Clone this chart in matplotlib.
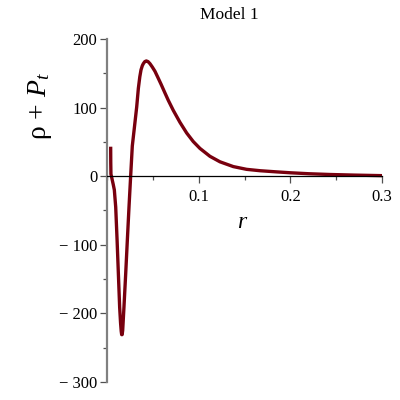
import matplotlib
matplotlib.use('Agg')
import matplotlib.pyplot as plt
from matplotlib import ticker

plt.rcParams['font.family'] = ['Liberation Serif', 'DejaVu Serif']
plt.rcParams['mathtext.fontset'] = 'custom'
plt.rcParams['mathtext.rm'] = 'Liberation Serif'
plt.rcParams['mathtext.it'] = 'Liberation Serif:italic'

# values
r = [0.0040, 0.0041, 0.0043, 0.0050, 0.0058, 0.0068, 0.0080, 0.0095, 0.0110, 0.0124,
     0.0138, 0.0148, 0.0155, 0.0160, 0.0165, 0.0171, 0.0185, 0.0204, 0.0222, 0.0240,
     0.0258, 0.0276, 0.0298, 0.0324, 0.0342, 0.0358, 0.0371, 0.0385, 0.0396, 0.0412,
     0.0429, 0.0448, 0.0469, 0.0495, 0.0523, 0.0555, 0.0590, 0.0630, 0.0669, 0.0723,
     0.0796, 0.0869, 0.0941, 0.1014, 0.1123, 0.1232, 0.1378, 0.1523, 0.1669, 0.1850,
     0.2000, 0.2200, 0.2430, 0.2700, 0.3000]
rho_pt = [43, 20, 3, -1, -6, -12, -20, -45, -93, -142,
          -191, -214, -226, -231, -231, -225, -191, -142, -93, -45,
          0, 44, 70, 101, 128, 145, 155, 161, 164, 167,
          168, 167, 164, 159, 153, 144, 134, 122, 110.5, 96,
          78.5, 63, 50.5, 40.5, 29, 21, 14, 10, 8, 6.3,
          5, 3.6, 2.5, 1.6, 0.8]

xticks = [0.1, 0.2, 0.3]
xtick_labels = ['0.1', '0.2', '0.3']
yticks = [200, 100, 0, -100, -200, -300]
ytick_labels = ['200', '100', '0', '\u2212 100', '\u2212 200', '\u2212 300']

fig = plt.figure(figsize=(4, 4), dpi=100)
ax = fig.add_axes([0.2675, 0.045, 0.6875, 0.8575])

ax.plot(r, rho_pt, color='#78000e', linewidth=2.4, solid_joinstyle='round', solid_capstyle='butt')

ax.set_xlim(0, 0.3)
ax.set_ylim(-300, 200)

ax.spines['top'].set_visible(False)
ax.spines['right'].set_visible(False)
ax.spines['left'].set_position(('data', 0))
ax.spines['bottom'].set_position(('data', 0))
ax.spines['left'].set_color('#808080')
ax.spines['left'].set_linewidth(1.6)
ax.spines['bottom'].set_color('black')
ax.spines['bottom'].set_linewidth(0.9)

ax.set_xticks(xticks, xtick_labels)
ax.set_yticks(yticks, ytick_labels)
ax.xaxis.set_minor_locator(ticker.MultipleLocator(0.05))
ax.yaxis.set_minor_locator(ticker.MultipleLocator(50))
ax.tick_params(axis='both', which='major', length=5, width=0.9, color='#505050', labelsize=12, pad=2)
ax.tick_params(axis='both', which='minor', length=3, width=0.9, color='#505050')
ax.tick_params(axis='x', pad=4)

fig.text(0.5725, 0.963, 'Model 1', ha='center', va='center', fontsize=12.5)
fig.text(0.6075, 0.443, '$r$', ha='center', va='center', fontsize=17)
fig.text(0.1, 0.735, '\u03c1 + $P_t$', ha='center', va='center', rotation=90, fontsize=20)

fig.savefig('out.png', dpi=100)
